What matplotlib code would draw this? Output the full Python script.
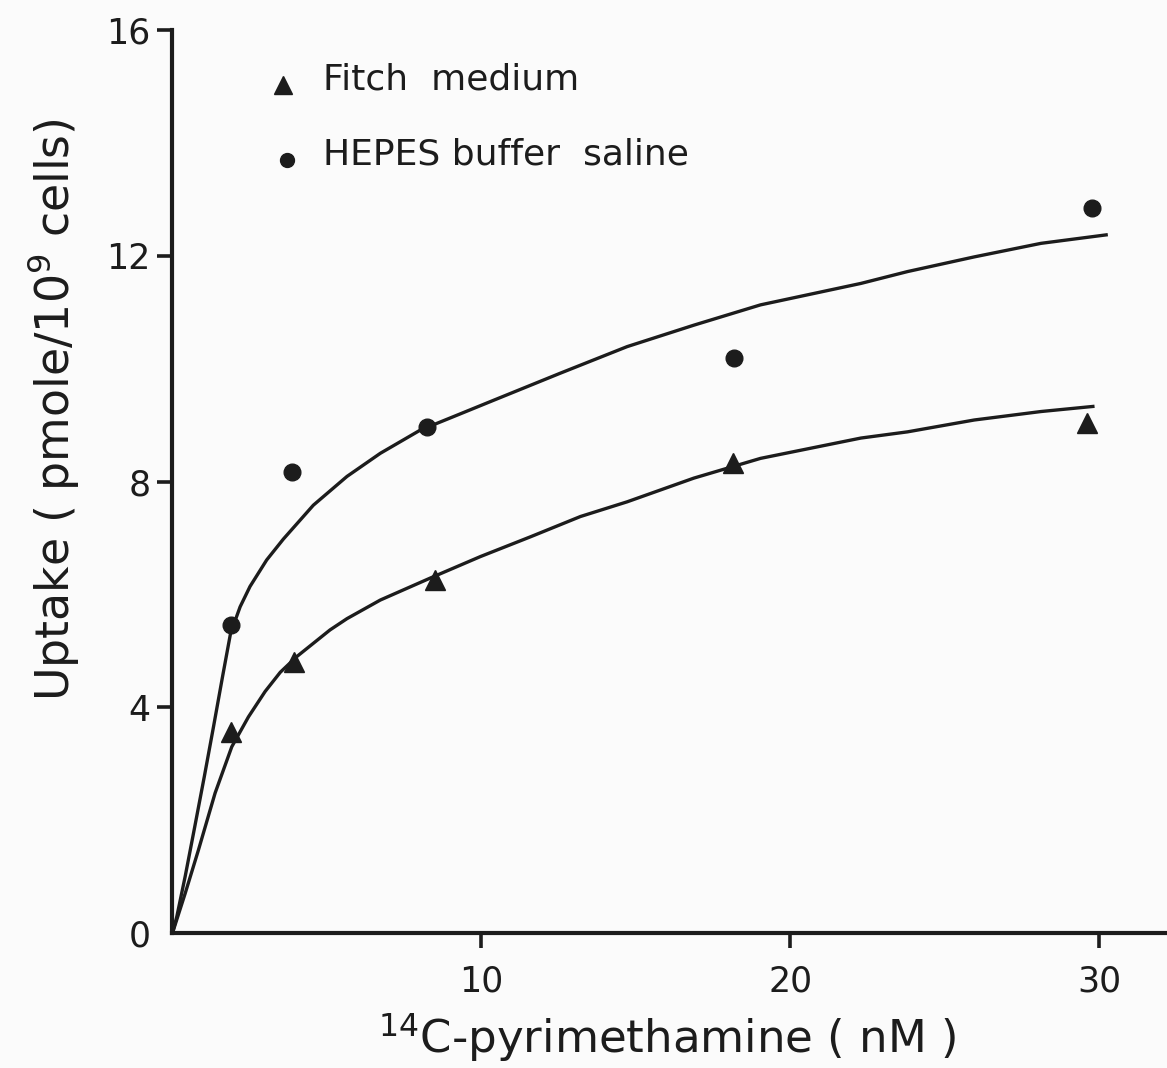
import matplotlib
matplotlib.use("Agg")
import matplotlib.pyplot as plt

plt.rcParams['font.family'] = ['DejaVu Sans']
plt.rcParams['mathtext.fontset'] = 'dejavusans'

# measured points
conc_fitch = [1.91, 3.92, 8.51, 18.16, 29.6]
uptake_fitch = [3.56, 4.80, 6.26, 8.33, 9.04]
conc_hepes = [1.88, 3.88, 8.25, 18.19, 29.77]
uptake_hepes = [5.46, 8.16, 8.97, 10.18, 12.85]

# hand-drawn fitted curves
curve_hepes_x = [0, 0.14, 0.41, 0.72, 1.03, 1.33, 1.62, 1.88, 2.19, 2.51, 3.05, 3.59,
                 4.56, 5.65, 6.73, 8.02, 9.10, 10.40, 12.56, 14.72, 16.88, 19.04,
                 22.29, 23.80, 25.96, 28.12, 30.23]
curve_hepes_y = [0, 0.29, 1.00, 1.88, 2.77, 3.66, 4.54, 5.31, 5.78, 6.14, 6.61, 6.98,
                 7.58, 8.09, 8.50, 8.91, 9.15, 9.44, 9.92, 10.39, 10.77, 11.13,
                 11.51, 11.72, 11.98, 12.22, 12.37]
curve_fitch_x = [0, 0.41, 0.84, 1.38, 1.92, 2.46, 3.00, 3.49, 4.03, 5.10, 5.65, 6.73,
                 8.35, 9.97, 11.59, 13.21, 14.72, 16.88, 19.04, 22.29, 23.80,
                 25.96, 28.12, 29.80]
curve_fitch_y = [0, 0.70, 1.47, 2.48, 3.30, 3.83, 4.28, 4.62, 4.90, 5.37, 5.57, 5.90,
                 6.29, 6.67, 7.02, 7.38, 7.64, 8.06, 8.41, 8.77, 8.88,
                 9.09, 9.24, 9.33]

x_ticks = [10, 20, 30]
y_ticks = [0, 4, 8, 12, 16]

ink = '#1c1c1c'
paper = '#fbfbfb'

fig = plt.figure(figsize=(11.67, 10.68), dpi=100, facecolor=paper)
ax = fig.add_axes([0.1478, 0.1264, 0.8522, 0.8455])
ax.set_facecolor(paper)

ax.plot(curve_hepes_x, curve_hepes_y, color=ink, lw=2.4, solid_joinstyle='round')
ax.plot(curve_fitch_x, curve_fitch_y, color=ink, lw=2.4, solid_joinstyle='round')
ax.plot(conc_fitch, uptake_fitch, '^', color=ink, ms=14, ls='none')
ax.plot(conc_hepes, uptake_hepes, 'o', color=ink, ms=12, ls='none')

ax.set_xlim(0, 32.2)
ax.set_ylim(0, 16)
ax.set_xticks(x_ticks)
ax.set_yticks(y_ticks)
ax.yaxis.get_major_ticks()[0].tick1line.set_visible(False)

for side in ['top', 'right']:
    ax.spines[side].set_visible(False)
for side in ['left', 'bottom']:
    ax.spines[side].set_linewidth(3)
    ax.spines[side].set_color(ink)

ax.tick_params(axis='both', direction='out', length=11, width=2.6, colors=ink, labelsize=25)
ax.tick_params(axis='x', pad=12)
ax.tick_params(axis='y', pad=5)

ax.set_xlabel('$^{14}$C-pyrimethamine ( nM )', fontsize=32.5, color=ink)
ax.xaxis.set_label_coords(0.497, -0.086)
ax.set_ylabel('Uptake ( pmole/10$^{9}$ cells)', fontsize=33, color=ink)
ax.yaxis.set_label_coords(-0.092, 0.58)

# legend drawn by hand
ax.plot([0.1116], [0.939], '^', color=ink, ms=13, transform=ax.transAxes, clip_on=False)
ax.plot([0.1156], [0.856], 'o', color=ink, ms=10, transform=ax.transAxes, clip_on=False)
ax.text(0.151, 0.945, 'Fitch  medium', transform=ax.transAxes, fontsize=26, color=ink, va='center')
ax.text(0.151, 0.862, 'HEPES buffer  saline', transform=ax.transAxes, fontsize=26, color=ink, va='center')

fig.savefig('out.png', dpi=100, facecolor=fig.get_facecolor())
